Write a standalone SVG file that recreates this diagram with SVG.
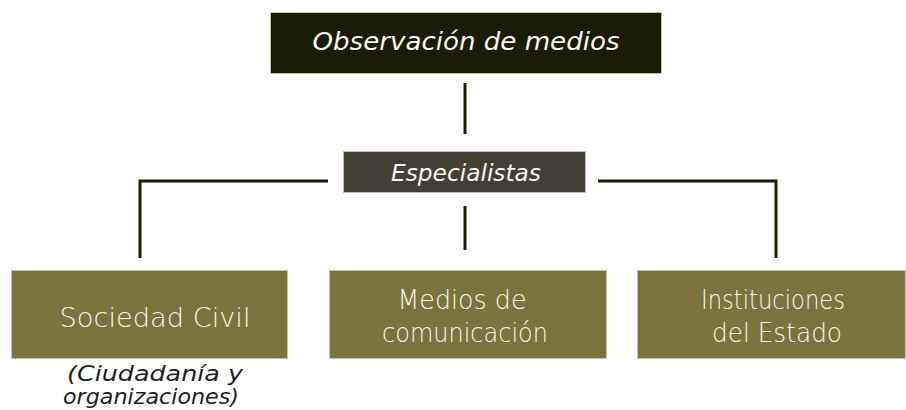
<svg xmlns="http://www.w3.org/2000/svg" width="906" height="410" viewBox="0 0 906 410">
<style>
.t{font-family:"DejaVu Sans","Liberation Sans",sans-serif;fill:#fbf8ee;text-anchor:middle;font-weight:200}
.i{font-style:italic}
.n{font-family:"DejaVu Sans","Liberation Sans",sans-serif;font-style:italic;fill:#1e1e1e;text-anchor:middle}
.box{stroke:#c9c6a8;stroke-width:1}
.conn{stroke:#1c1c06;stroke-width:3;fill:none}
</style>
<rect width="906" height="410" fill="#ffffff"/>
<g id="connectors">
<line class="conn" x1="465" y1="83" x2="465" y2="134"/>
<polyline class="conn" points="328,181 140,181 140,258"/>
<polyline class="conn" points="598,181 776,181 776,258"/>
<line class="conn" x1="465" y1="206" x2="465" y2="250"/>
</g>
<g id="observacion">
<rect class="box" x="270.5" y="12.5" width="391" height="61" fill="#1b1c06"/>
<text class="t i" x="466" y="50" font-size="25" textLength="307" lengthAdjust="spacingAndGlyphs">Observación de medios</text>
</g>
<g id="especialistas">
<rect class="box" x="343.5" y="151.5" width="242" height="41" fill="#433f36"/>
<text class="t i" x="466" y="181" font-size="23" textLength="150" lengthAdjust="spacingAndGlyphs">Especialistas</text>
</g>
<g id="sociedad">
<rect class="box" x="11.5" y="270.5" width="276" height="88" fill="#7b733c"/>
<text class="t" x="155" y="327" font-size="27" textLength="191" lengthAdjust="spacingAndGlyphs">Sociedad Civil</text>
<text class="n" x="155" y="381" font-size="21" textLength="176" lengthAdjust="spacingAndGlyphs">(Ciudadanía y</text>
<text class="n" x="151" y="404" font-size="21" textLength="176" lengthAdjust="spacingAndGlyphs">organizaciones)</text>
</g>
<g id="medios">
<rect class="box" x="329.5" y="270.5" width="277" height="88" fill="#7b733c"/>
<text class="t" x="462" y="309" font-size="27" textLength="129" lengthAdjust="spacingAndGlyphs">Medios de</text>
<text class="t" x="465" y="342" font-size="27" textLength="166" lengthAdjust="spacingAndGlyphs">comunicación</text>
</g>
<g id="instituciones">
<rect class="box" x="637.5" y="270.5" width="268" height="88" fill="#7b733c"/>
<text class="t" x="773" y="309" font-size="27" textLength="144" lengthAdjust="spacingAndGlyphs">Instituciones</text>
<text class="t" x="777" y="342" font-size="27" textLength="130" lengthAdjust="spacingAndGlyphs">del Estado</text>
</g>
</svg>
